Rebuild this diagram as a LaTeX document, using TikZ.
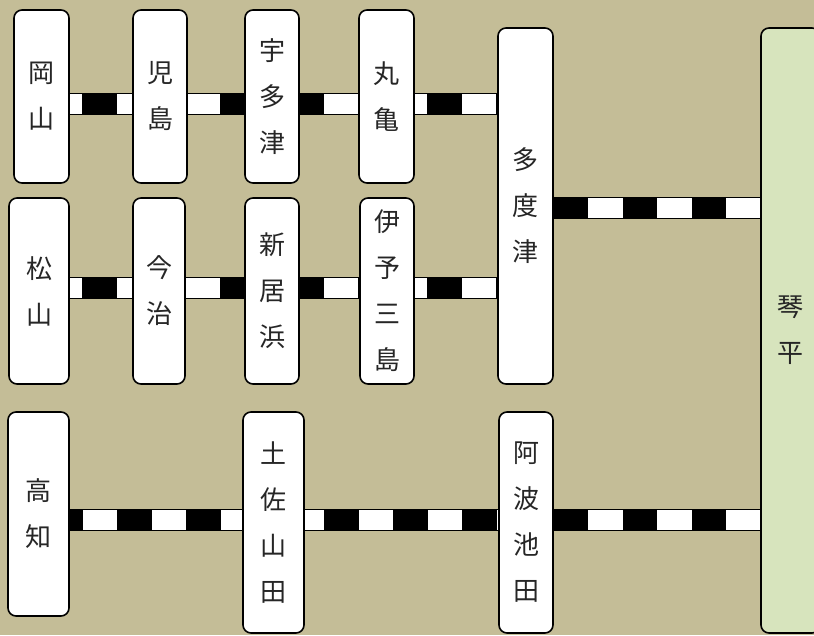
\documentclass[tikz,border=0pt]{standalone}
\usepackage{fontspec}
\newfontfamily\cjk{Noto Sans CJK JP}
\usetikzlibrary{backgrounds}
\definecolor{bgtan}{HTML}{C4BD97}
\definecolor{kgreen}{HTML}{D7E4BD}
\tikzset{
  station/.style={draw=black, line width=1.6pt, fill=white, rounded corners=8pt,
    inner sep=0pt, align=center, text=black!85, font=\cjk\fontsize{26}{46}\selectfont},
  railout/.style={line width=22pt, draw=black},
  railin/.style={line width=20pt, draw=white},
  raildash/.style={line width=20pt, draw=black, dash pattern=on 34.5pt off 34.5pt},
}
\newcommand\railseg[3]{%
  \draw[railout] #1 -- #2;
  \draw[railin] #1 -- #2;
  \draw[raildash, dash phase=#3] #1 -- #2;}
\begin{document}
\begin{tikzpicture}[x=1pt, y=-1pt]
\useasboundingbox (0,0) rectangle (814,635);
% row 1
\node[station, minimum width=55pt, minimum height=173pt] (okayama) at (41.5,96.5) {岡\\山};
\node[station, minimum width=54pt, minimum height=173pt] (kojima) at (160,96.5) {児\\島};
\node[station, minimum width=54pt, minimum height=173pt] (utazu) at (272,96.5) {宇\\多\\津};
\node[station, minimum width=55pt, minimum height=173pt] (marugame) at (386.5,96.5) {丸\\亀};
\node[station, minimum width=55pt, minimum height=356pt] (tadotsu) at (525.5,206) {多\\度\\津};
\node[station, fill=kgreen, minimum width=59pt, minimum height=605pt] (kotohira) at (790.5,330.5) {琴\\平};
% row 2
\node[station, minimum width=60pt, minimum height=186pt] (matsuyama) at (39,291) {松\\山};
\node[station, minimum width=52pt, minimum height=186pt] (imabari) at (159,291) {今\\治};
\node[station, minimum width=54pt, minimum height=186pt] (niihama) at (272,291) {新\\居\\浜};
\node[station, minimum width=54pt, minimum height=186pt] (iyomishima) at (387,291) {伊\\予\\三\\島};
% row 3
\node[station, minimum width=61pt, minimum height=204pt] (kochi) at (38.5,514) {高\\知};
\node[station, minimum width=61pt, minimum height=221pt] (tosayamada) at (273.5,522.5) {土\\佐\\山\\田};
\node[station, minimum width=54pt, minimum height=221pt] (awaikeda) at (526,522.5) {阿\\波\\池\\田};
% rails
\coordinate (r1) at (0,104);
\coordinate (r2) at (0,288);
\coordinate (r3) at (0,520);
\coordinate (r4) at (0,208);
\begin{scope}[on background layer]
  \fill[bgtan] (0,0) rectangle (814,635);
  \railseg{(okayama.west |- r1)}{(tadotsu.center |- r1)}{0}
  \railseg{(matsuyama.west |- r2)}{(tadotsu.center |- r2)}{64}
  \railseg{(kochi.west |- r3)}{(awaikeda.center |- r3)}{28}
  \railseg{(awaikeda.east |- r3)}{(kotohira.center |- r3)}{0}
  \railseg{(tadotsu.east |- r4)}{(kotohira.center |- r4)}{0}
\end{scope}
\end{tikzpicture}
\end{document}
